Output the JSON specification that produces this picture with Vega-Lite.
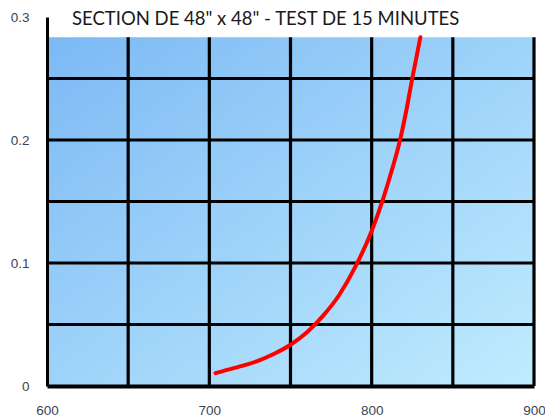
{
  "$schema": "https://vega.github.io/schema/vega-lite/v6.json",
  "width": 487,
  "height": 369,
  "autosize": {"type": "none"},
  "padding": {"left": 47, "top": 17, "right": 11, "bottom": 32},
  "background": "white",
  "title": {
    "text": "SECTION DE 48\" x 48\" - TEST DE 15 MINUTES",
    "anchor": "start",
    "frame": "group",
    "dx": 25,
    "offset": -18,
    "font": "Lato",
    "fontSize": 18.5,
    "fontWeight": "normal",
    "color": "#1a1a1a"
  },
  "datasets": {
    "panel": [{"x": 600, "x2": 900, "y": 0, "y2": 0.2835}],
    "curve": [
      {"x": 703.8, "y": 0.0105},
      {"x": 715, "y": 0.0145},
      {"x": 730, "y": 0.0205},
      {"x": 740, "y": 0.0262},
      {"x": 750, "y": 0.0335},
      {"x": 760, "y": 0.0435},
      {"x": 770, "y": 0.057},
      {"x": 780, "y": 0.074},
      {"x": 790, "y": 0.097},
      {"x": 800, "y": 0.126},
      {"x": 807, "y": 0.152},
      {"x": 813, "y": 0.178},
      {"x": 817.5, "y": 0.2},
      {"x": 821.5, "y": 0.225},
      {"x": 825, "y": 0.25},
      {"x": 830, "y": 0.2835}
    ],
    "gridx": [{"x": 650}, {"x": 700}, {"x": 750}, {"x": 800}, {"x": 850}, {"x": 900}],
    "gridy": [{"y": 0.05}, {"y": 0.1}, {"y": 0.15}, {"y": 0.2}, {"y": 0.25}]
  },
  "layer": [
    {
      "data": {"name": "panel"},
      "mark": {
        "type": "rect",
        "color": {
          "gradient": "linear",
          "x1": 0, "y1": 0, "x2": 1, "y2": 1,
          "stops": [
            {"offset": 0, "color": "#7cb9f4"},
            {"offset": 1, "color": "#c0ecfe"}
          ]
        }
      },
      "encoding": {
        "x": {"field": "x", "type": "quantitative", "scale": {"domain": [600, 900], "nice": false, "zero": false},
          "axis": {
            "values": [600, 700, 800, 900], "title": null, "grid": false, "ticks": false,
            "domainColor": "black", "domainWidth": 4, "labelPadding": 17,
            "labelFont": "Liberation Sans", "labelFontSize": 13.5, "labelColor": "#3b4453",
            "labelFlush": false, "labelOverlap": false, "zindex": 1
          }},
        "x2": {"field": "x2"},
        "y": {"field": "y", "type": "quantitative", "scale": {"domain": [0, 0.3], "nice": false},
          "axis": {
            "values": [0, 0.1, 0.2, 0.3], "format": ".1~f", "title": null, "grid": false, "ticks": false,
            "domainColor": "black", "domainWidth": 3, "labelPadding": 18,
            "labelFont": "Liberation Sans", "labelFontSize": 13.5, "labelColor": "#3b4453",
            "labelFlush": false, "labelOverlap": false, "zindex": 1
          }},
        "y2": {"field": "y2"}
      }
    },
    {
      "data": {"name": "gridx"},
      "mark": {"type": "rule", "color": "black", "strokeWidth": 3.2},
      "encoding": {
        "x": {"field": "x", "type": "quantitative", "title": null},
        "y": {"datum": 0, "type": "quantitative", "title": null},
        "y2": {"datum": 0.2835}
      }
    },
    {
      "data": {"name": "gridy"},
      "mark": {"type": "rule", "color": "black", "strokeWidth": 3.2},
      "encoding": {
        "y": {"field": "y", "type": "quantitative", "title": null},
        "x": {"datum": 600, "type": "quantitative", "title": null},
        "x2": {"datum": 900}
      }
    },
    {
      "data": {"name": "curve"},
      "mark": {"type": "line", "color": "#ff0000", "strokeWidth": 4, "interpolate": "monotone", "strokeCap": "round"},
      "encoding": {
        "x": {"field": "x", "type": "quantitative", "title": null},
        "y": {"field": "y", "type": "quantitative", "title": null}
      }
    }
  ],
  "config": {"view": {"stroke": null}}
}
